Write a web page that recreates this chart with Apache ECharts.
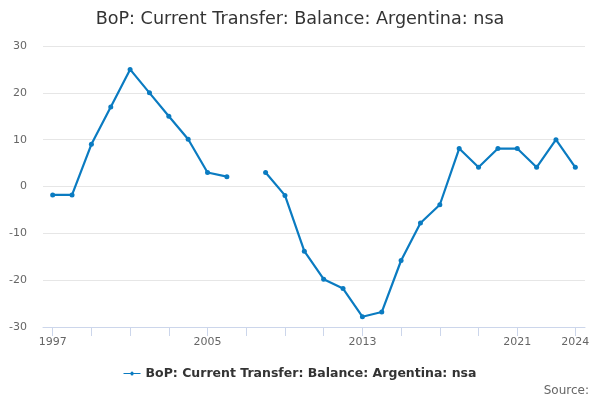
<!DOCTYPE html>
<html>
<head>
<meta charset="utf-8">
<script src="https://cdn.jsdelivr.net/npm/echarts@6/dist/echarts.min.js"></script>
<style>html,body{margin:0;padding:0;background:#fff}#c{width:600px;height:400px}</style>
</head>
<body>
<div id="c"></div>
<script>
var years = ['1997','1998','1999','2000','2001','2002','2003','2004','2005','2006','2007','2008','2009','2010','2011','2012','2013','2014','2015','2016','2017','2018','2019','2020','2021','2022','2023','2024'];
var values = [-1.8,-1.8,9,17,25,20,15,10.1,3,2.1,null,3,-1.9,-13.8,-19.8,-21.8,-27.8,-26.8,-15.8,-7.8,-3.9,8.1,4.1,8.1,8.1,4.1,10,4.1];
var seriesName = 'BoP: Current Transfer: Balance: Argentina: nsa';
var yTicks = {min: -30, max: 30, interval: 10};

var chart = echarts.init(document.getElementById('c'), null, {renderer: 'canvas'});
var font = 'DejaVu Sans';
var last = years.length - 1;
chart.setOption({
  animation: false,
  title: {
    text: seriesName, left: 'center', top: 5,
    textStyle: {fontFamily: font, fontSize: 17.6, fontWeight: 'normal', color: '#333'}
  },
  legend: {
    bottom: 15, left: 'center', itemWidth: 17, itemHeight: 8, itemGap: 5,
    textStyle: {fontFamily: font, fontSize: 12.5, fontWeight: 'bold', color: '#333'},
    data: [{name: seriesName, icon: 'path://M0,3.5L7,3.5A1.5,1.5,0,1,1,10,3.5L17,3.5L17,4.5L10,4.5A1.5,1.5,0,1,1,7,4.5L0,4.5Z'}]
  },
  graphic: [{
    type: 'text', right: 11, bottom: 3,
    style: {text: 'Source:', fontFamily: font, fontSize: 12, fill: '#666'}
  }],
  grid: {left: 43, right: 15, top: 46, bottom: 73, containLabel: false},
  xAxis: {
    type: 'category', data: years, boundaryGap: true,
    axisLine: {show: true, onZero: false, lineStyle: {color: '#ccd6eb', width: 1}},
    axisTick: {show: true, alignWithLabel: true, length: 9, lineStyle: {color: '#ccd6eb', width: 1},
      interval: function (i) { return (i % 2 === 0 && i < last - 1) || i === last; }},
    axisLabel: {fontFamily: font, fontSize: 11, color: '#666', margin: 10,
      interval: function (i) { return i % 8 === 0 || i === last; }},
    splitLine: {show: false}
  },
  yAxis: {
    type: 'value', min: yTicks.min, max: yTicks.max, interval: yTicks.interval,
    axisLine: {show: false}, axisTick: {show: false},
    axisLabel: {fontFamily: font, fontSize: 11, color: '#666', margin: 16},
    splitLine: {lineStyle: {color: '#e6e6e6'}}
  },
  series: [{
    name: seriesName, type: 'line', data: values, connectNulls: false,
    symbol: 'circle', symbolSize: 5, showSymbol: true,
    lineStyle: {color: '#0a7bc1', width: 2.2},
    itemStyle: {color: '#0a7bc1'}
  }]
});
</script>
</body>
</html>
